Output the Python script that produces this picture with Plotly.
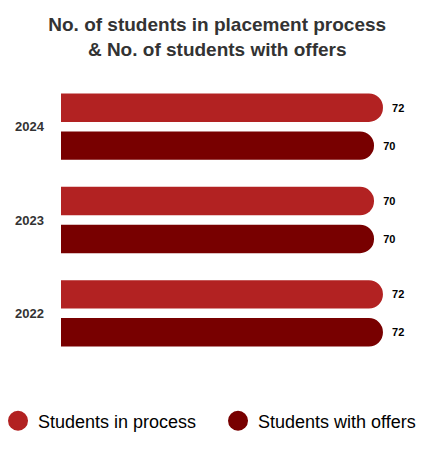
import plotly.graph_objects as go

years = ["2024", "2023", "2022"]
in_process = [72, 70, 72]
with_offers = [70, 70, 72]
series_names = ["Students in process", "Students with offers"]
colors = ["#B22222", "#780000"]

fig = go.Figure()
for name, vals, col in zip(series_names, [in_process, with_offers], colors):
    fig.add_trace(go.Bar(
        y=years, x=vals, orientation="h", name=name,
        marker=dict(color=col, cornerradius=14, line=dict(width=0)),
        text=[str(v) for v in vals],
        texttemplate="&nbsp;&nbsp;<b>%{text}</b>",
        textposition="outside",
        textfont=dict(family="Liberation Sans, Arial", size=11, color="#000000"),
        cliponaxis=False,
        showlegend=False, hoverinfo="skip",
    ))
    fig.add_trace(go.Scatter(
        x=[None], y=[None], mode="markers", name=name,
        marker=dict(color=col, size=20, symbol="circle", line=dict(color=col, width=4)),
        showlegend=True,
    ))

fig.update_layout(
    width=446, height=451,
    margin=dict(l=61, r=0, t=80, b=91, autoexpand=False),
    paper_bgcolor="white", plot_bgcolor="white",
    barmode="group", bargap=0.187, bargroupgap=0.25,
    title=dict(
        text="<b>No. of students in placement process<br>&amp; No. of students with offers</b>",
        x=0.487, xanchor="center", y=0.931, yanchor="middle",
        font=dict(family="Liberation Sans, Arial", size=19, color="#333333"),
    ),
    xaxis=dict(range=[0, 86.1], visible=False, showgrid=False, zeroline=False, fixedrange=True),
    yaxis=dict(
        autorange="reversed", showgrid=False, zeroline=False, showline=False,
        ticks="", ticklabelstandoff=16,
        tickfont=dict(family="Liberation Sans, Arial", size=13, color="#333333"),
        tickprefix="<b>", ticksuffix="</b>",
    ),
    legend=dict(
        orientation="h",
        x=-0.1636, y=-0.218, xanchor="left", yanchor="middle",
        entrywidth=175, entrywidthmode="pixels",
        font=dict(family="Liberation Sans, Arial", size=18, color="#000000"),
        itemsizing="trace",
    ),
)

fig.write_html("out.html")
